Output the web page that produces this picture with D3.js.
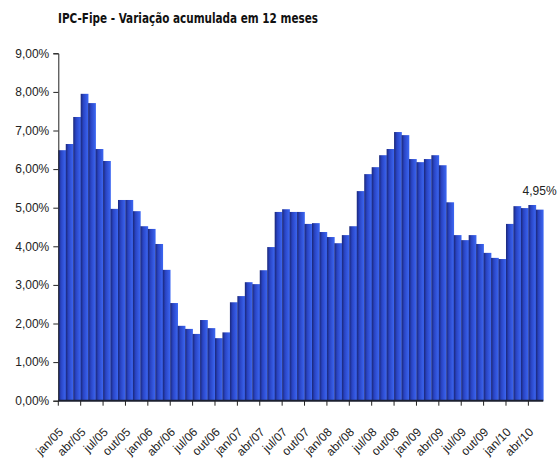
<!DOCTYPE html>
<html lang="pt">
<head>
<meta charset="UTF-8">
<title>IPC-Fipe</title>
<style>
  body { margin: 0; background: #fff; }
  svg { display: block; }
  .tick text { font-family: "Liberation Sans", Arial, sans-serif; font-size: 12px; fill: #222; }
</style>
</head>
<body>
<div class="graph"></div>
<script src="https://d3js.org/d3.v7.min.js"></script>
<script>
var w = 560, h = 464;

var months = [
  "jan/05","fev/05","mar/05","abr/05","mai/05","jun/05","jul/05","ago/05","set/05","out/05","nov/05","dez/05",
  "jan/06","fev/06","mar/06","abr/06","mai/06","jun/06","jul/06","ago/06","set/06","out/06","nov/06","dez/06",
  "jan/07","fev/07","mar/07","abr/07","mai/07","jun/07","jul/07","ago/07","set/07","out/07","nov/07","dez/07",
  "jan/08","fev/08","mar/08","abr/08","mai/08","jun/08","jul/08","ago/08","set/08","out/08","nov/08","dez/08",
  "jan/09","fev/09","mar/09","abr/09","mai/09","jun/09","jul/09","ago/09","set/09","out/09","nov/09","dez/09",
  "jan/10","fev/10","mar/10","abr/10","mai/10"
];
// variação acumulada em 12 meses (%)
var values = [
  6.49, 6.65, 7.35, 7.95, 7.71, 6.52, 6.21, 4.97, 5.20, 5.20, 4.91, 4.52,
  4.45, 4.06, 3.39, 2.53, 1.94, 1.86, 1.73, 2.09, 1.88, 1.62, 1.77, 2.55,
  2.71, 3.07, 3.02, 3.38, 3.98, 4.89, 4.96, 4.89, 4.89, 4.58, 4.60, 4.37,
  4.24, 4.08, 4.29, 4.52, 5.43, 5.87, 6.05, 6.36, 6.52, 6.96, 6.88, 6.26,
  6.18, 6.26, 6.36, 6.10, 5.14, 4.29, 4.16, 4.29, 4.06, 3.83, 3.70, 3.67,
  4.58, 5.04, 4.99, 5.07, 4.95
];
var yTicks = [0, 1, 2, 3, 4, 5, 6, 7, 8, 9];
var xLabels = ["jan/05","abr/05","jul/05","out/05","jan/06","abr/06","jul/06","out/06",
  "jan/07","abr/07","jul/07","out/07","jan/08","abr/08","jul/08","out/08",
  "jan/09","abr/09","jul/09","out/09","jan/10","abr/10"];
var title = "IPC-Fipe - Variação acumulada em 12 meses";
var lastLabel = "4,95%";

var svg = d3.select(".graph").append("svg")
  .attr("width", w).attr("height", h);

var x = d3.scaleBand().domain(months).range([58.3, 543.3]).padding(0);
var y = d3.scaleLinear().domain([0, 9]).range([400.7, 53.3]);

var fmt = function(v) { return d3.format(".2f")(v).replace(".", ",") + "%"; };

var grad = svg.append("defs").append("linearGradient")
  .attr("id", "barGrad").attr("x1", "0%").attr("x2", "100%").attr("y1", "0%").attr("y2", "0%");
grad.append("stop").attr("offset", "0%").attr("stop-color", "#1a2778");
grad.append("stop").attr("offset", "35%").attr("stop-color", "#2944c4");
grad.append("stop").attr("offset", "100%").attr("stop-color", "#3d68f4");

// título
svg.append("text")
  .attr("x", 58).attr("y", 23)
  .attr("textLength", 260).attr("lengthAdjust", "spacingAndGlyphs")
  .style("font-family", "'Liberation Sans Narrow', 'DejaVu Sans Condensed', Arial, sans-serif")
  .style("font-weight", "bold").style("font-size", "14px").style("fill", "#111")
  .text(title);

// barras
svg.append("g").selectAll("rect").data(values).enter()
  .append("rect")
  .attr("x", function(d, i) { return x(months[i]); })
  .attr("y", function(d) { return y(d); })
  .attr("width", x.bandwidth() + 0.3)
  .attr("height", function(d) { return y(0) - y(d); })
  .style("fill", "url(#barGrad)");

// eixo y
var yAxis = d3.axisLeft(y).tickValues(yTicks).tickFormat(fmt).tickSizeOuter(0).tickSize(5).tickPadding(4);
var gy = svg.append("g").attr("transform", "translate(58.3,0)").call(yAxis);
gy.select(".domain").attr("stroke", "#222");
gy.selectAll(".tick line").attr("stroke", "#222");

// eixo x
var gx = svg.append("g").attr("transform", "translate(0," + y(0) + ")");
gx.append("line")
  .attr("x1", x.range()[0]).attr("x2", x.range()[1])
  .attr("stroke", "#1c2030").attr("stroke-width", 2);
gx.selectAll("line.tk").data(xLabels).enter()
  .append("line").attr("class", "tk")
  .attr("x1", function(d) { return x(d); }).attr("x2", function(d) { return x(d); })
  .attr("y1", 0).attr("y2", 5)
  .attr("stroke", "#222");
gx.selectAll("text").data(xLabels).enter()
  .append("text")
  .attr("transform", function(d) {
    return "translate(" + (x(d) + x.bandwidth() / 2 + 2) + ",32) rotate(-45)";
  })
  .attr("text-anchor", "end")
  .style("font-family", "'Liberation Sans', Arial, sans-serif")
  .style("font-size", "12px").style("fill", "#222")
  .text(function(d) { return d; });

// rótulo do último valor
svg.append("text")
  .attr("x", x(months[months.length - 1]) + x.bandwidth() / 2)
  .attr("y", y(values[values.length - 1]) - 15)
  .attr("text-anchor", "middle")
  .style("font-family", "'Liberation Sans', Arial, sans-serif")
  .style("font-size", "12px").style("fill", "#222")
  .text(lastLabel);
</script>
</body>
</html>
